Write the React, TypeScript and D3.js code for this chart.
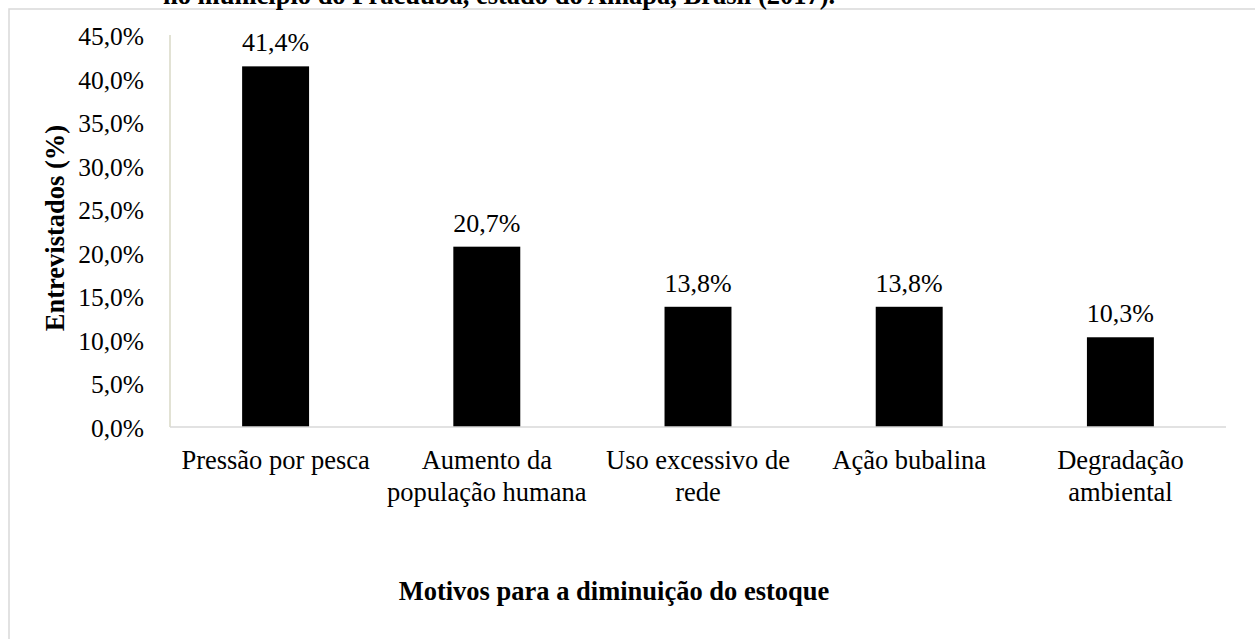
import React from "react";
import * as d3 from "d3";

const categories: string[][] = [
  ["Pressão por pesca"],
  ["Aumento da", "população humana"],
  ["Uso excessivo de", "rede"],
  ["Ação bubalina"],
  ["Degradação", "ambiental"],
];
const values: number[] = [41.4, 20.7, 13.8, 13.8, 10.3];
const yTicks: number[] = [0, 5, 10, 15, 20, 25, 30, 35, 40, 45];
const topTitle = "no município do Pracuúba, estado do Amapá, Brasil (2017).";
const yTitle = "Entrevistados (%)";
const xTitle = "Motivos para a diminuição do estoque";

const W = 1255;
const H = 639;
const FONT = "'Liberation Serif', 'Times New Roman', serif";
const fmt = (v: number) => v.toFixed(1).replace(".", ",") + "%";

export default function App() {
  const x0 = 170, x1 = 1226, yTop = 35, yBot = 427;
  const x = d3
    .scaleBand<number>()
    .domain(values.map((_, i) => i))
    .range([x0, x1])
    .paddingInner(0.683)
    .paddingOuter(0.3415);
  const y = d3.scaleLinear().domain([0, 45]).range([yBot, yTop]);
  const fsTick = 25.5;
  const fsVal = 26;
  const fsCat = 26.5;
  const fsBold = 26.5;
  return (
    <svg
      width={W}
      height={H}
      style={{ position: "absolute", left: 0, top: 0, background: "#fff" }}
      fontFamily={FONT}
    >
      <rect x={0} y={0} width={W} height={H} fill="#fff" />
      <rect x={9} y={9} width={W + 20} height={H + 20} fill="none" stroke="#d9d9d9" strokeWidth={1.5} />
      <text x={163} y={4} fontSize={fsBold} fontWeight="bold" fill="#000">
        {topTitle}
      </text>
      <line x1={x0} x2={x0} y1={yTop} y2={yBot} stroke="#d9d9c6" strokeWidth={1.5} />
      {yTicks.map((t) => (
        <text key={t} x={144} y={y(t) + 10} textAnchor="end" fontSize={fsTick} fill="#000">
          {fmt(t)}
        </text>
      ))}
      {values.map((v, i) => (
        <g key={i}>
          <rect x={x(i)!} y={y(v)} width={x.bandwidth()} height={yBot - y(v)} fill="#000" />
          <text
            x={x(i)! + x.bandwidth() / 2}
            y={y(v) - 15}
            textAnchor="middle"
            fontSize={fsVal}
            fill="#000"
          >
            {fmt(v)}
          </text>
        </g>
      ))}
      <line x1={x0} x2={x1} y1={yBot} y2={yBot} stroke="#d9d9d9" strokeWidth={1.5} />
      {categories.map((lines, i) => (
        <text key={i} textAnchor="middle" fontSize={fsCat} fill="#000">
          {lines.map((l, j) => (
            <tspan key={j} x={x(i)! + x.bandwidth() / 2} y={469 + j * 32}>
              {l}
            </tspan>
          ))}
        </text>
      ))}
      <text
        transform={`translate(64,228) rotate(-90)`}
        textAnchor="middle"
        fontSize={fsBold}
        fontWeight="bold"
        fill="#000"
      >
        {yTitle}
      </text>
      <text x={614} y={600} textAnchor="middle" fontSize={fsBold} fontWeight="bold" fill="#000">
        {xTitle}
      </text>
    </svg>
  );
}
